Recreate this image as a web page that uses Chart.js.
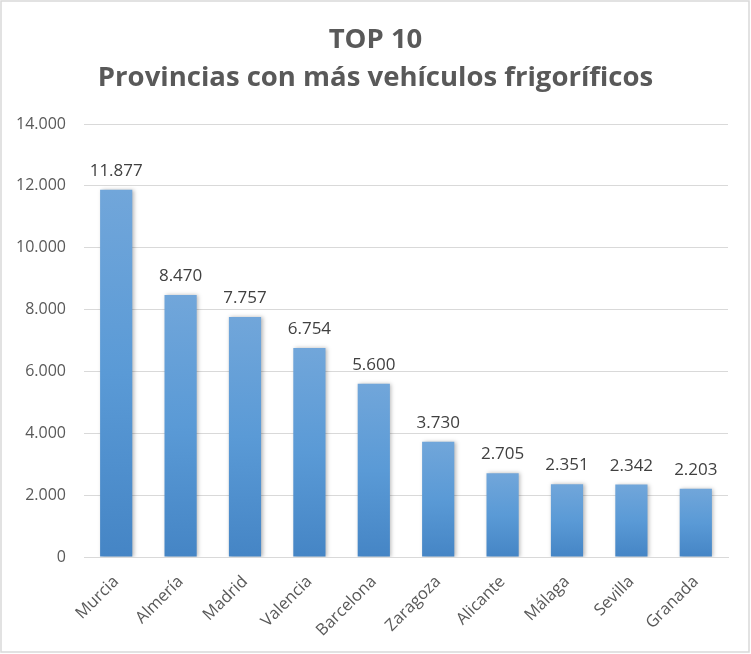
<!DOCTYPE html>
<html>
<head>
<meta charset="utf-8">
<script src="https://cdn.jsdelivr.net/npm/chart.js@4/dist/chart.umd.min.js"></script>
<style>
html,body{margin:0;padding:0;background:#fff;}
#wrap{width:751px;height:654px;position:relative;}
</style>
</head>
<body>
<div id="wrap"><canvas id="c" width="751" height="654"></canvas></div>
<script>
const categories = ["Murcia","Almería","Madrid","Valencia","Barcelona","Zaragoza","Alicante","Málaga","Sevilla","Granada"];
const values = [11877, 8470, 7757, 6754, 5600, 3730, 2705, 2351, 2342, 2203];
const titleLines = ["TOP 10", "Provincias con más vehículos frigoríficos"];
const yMin = 0, yMax = 14000, yStep = 2000;

function fmt(n){
  return String(Math.round(n)).replace(/\B(?=(\d{3})+(?!\d))/g, ".");
}

const titlePlugin = {
  id: 'centeredTitle',
  afterDraw(chart){
    const c = chart.ctx;
    c.save();
    c.font = 'bold 27.5px "Open Sans"';
    c.fillStyle = '#595959';
    c.textAlign = 'center';
    c.textBaseline = 'middle';
    titleLines.forEach((t, i) => c.fillText(t, chart.width / 2, 40 + i * 38));
    c.restore();
  }
};

const borderPlugin = {
  id: 'outerBorder',
  afterDraw(chart){
    const c = chart.ctx;
    c.save();
    c.strokeStyle = '#d9d9d9';
    c.lineWidth = 1.5;
    c.strokeRect(1, 1, chart.width - 3, chart.height - 3);
    c.restore();
  }
};

const shadowPlugin = {
  id: 'barShadow',
  beforeDatasetDraw(chart){
    const c = chart.ctx;
    c.save();
    c.shadowColor = 'rgba(0,0,0,0.28)';
    c.shadowBlur = 4;
    c.shadowOffsetX = 1.5;
    c.shadowOffsetY = 0;
  },
  afterDatasetDraw(chart){
    chart.ctx.restore();
  }
};

const labelPlugin = {
  id: 'valueLabels',
  afterDatasetsDraw(chart){
    const c = chart.ctx;
    const meta = chart.getDatasetMeta(0);
    c.save();
    c.font = '17px "Open Sans"';
    c.fillStyle = '#404040';
    c.textAlign = 'center';
    c.textBaseline = 'alphabetic';
    meta.data.forEach((el, i) => {
      c.fillText(fmt(values[i]), el.x, el.y - 14);
    });
    c.restore();
  }
};

function barGradient(ctx){
  const chart = ctx.chart;
  if (!chart.chartArea || ctx.raw === undefined) return '#5b9bd5';
  const y = chart.scales.y.getPixelForValue(ctx.raw);
  const base = chart.scales.y.getPixelForValue(0);
  const g = chart.ctx.createLinearGradient(0, y, 0, base);
  g.addColorStop(0, '#71a6da');
  g.addColorStop(0.5, '#5a9ad6');
  g.addColorStop(1, '#4585c5');
  return g;
}

new Chart(document.getElementById('c'), {
  type: 'bar',
  data: {
    labels: categories,
    datasets: [{
      data: values,
      backgroundColor: barGradient,
      borderWidth: 0,
      categoryPercentage: 1.0,
      barPercentage: 0.5
    }]
  },
  options: {
    responsive: false,
    animation: false,
    devicePixelRatio: 1,
    layout: { padding: { left: 0, right: 23, top: 124, bottom: 0 } },
    plugins: {
      legend: { display: false },
      tooltip: { enabled: false },
      title: { display: false }
    },
    scales: {
      x: {
        grid: { display: false, drawTicks: false },
        border: { display: true, color: '#d9d9d9', width: 1 },
        ticks: {
          color: '#595959',
          font: { family: '"Open Sans"', size: 16.5 },
          maxRotation: 45, minRotation: 45,
          padding: 15,
          autoSkip: false
        },
        afterFit(scale){ scale.height = 97; }
      },
      y: {
        min: yMin, max: yMax,
        grid: { color: '#d9d9d9', lineWidth: 1, drawTicks: false },
        border: { display: false },
        ticks: {
          stepSize: yStep,
          color: '#595959',
          font: { family: '"Open Sans"', size: 16 },
          padding: 18,
          callback: v => fmt(v)
        },
        afterFit(scale){ scale.width = 84; }
      }
    }
  },
  plugins: [titlePlugin, borderPlugin, shadowPlugin, labelPlugin]
});
</script>
</body>
</html>
